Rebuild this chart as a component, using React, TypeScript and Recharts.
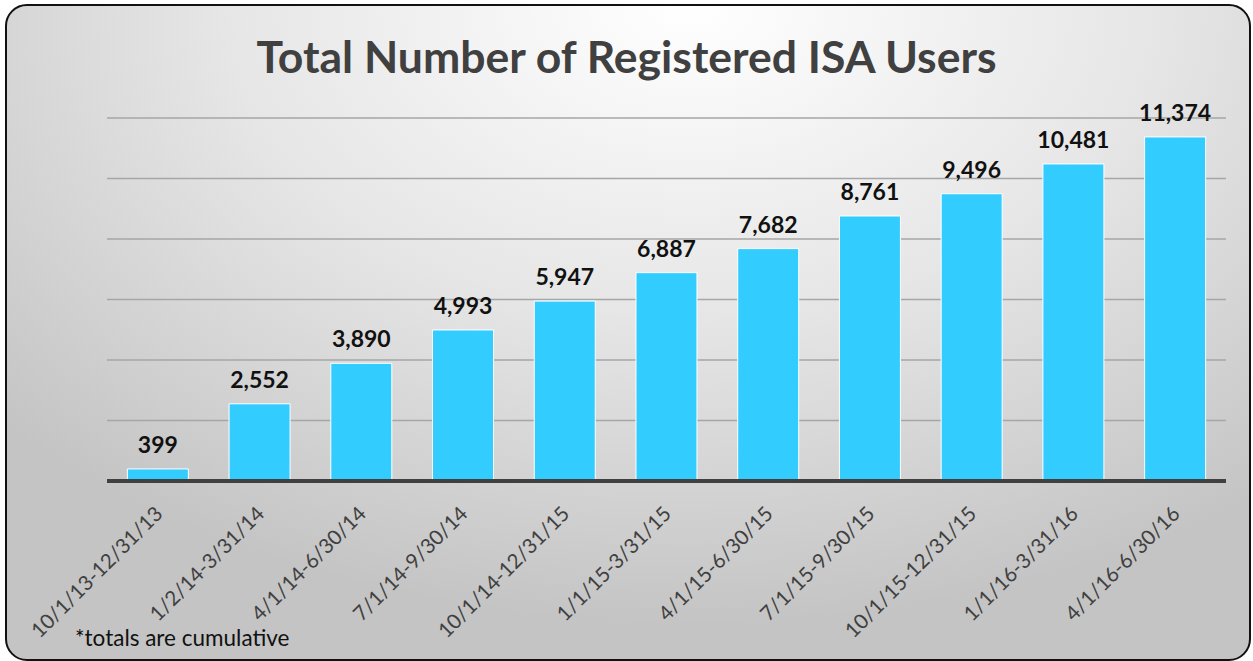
import { BarChart, Bar, XAxis, YAxis, CartesianGrid, LabelList, ReferenceLine } from 'recharts';

const periods = [
  '10/1/13-12/31/13',
  '1/2/14-3/31/14',
  '4/1/14-6/30/14',
  '7/1/14-9/30/14',
  '10/1/14-12/31/15',
  '1/1/15-3/31/15',
  '4/1/15-6/30/15',
  '7/1/15-9/30/15',
  '10/1/15-12/31/15',
  '1/1/16-3/31/16',
  '4/1/16-6/30/16',
];
const users = [399, 2552, 3890, 4993, 5947, 6887, 7682, 8761, 9496, 10481, 11374];
const yTicks = [0, 2000, 4000, 6000, 8000, 10000, 12000];

const data = periods.map((period, i) => ({ period, users: users[i] }));

const FONT = 'Lato, "Open Sans", sans-serif';

// rotated category labels, anchored at their end just under the axis
function SlantTick(props: any) {
  const { x, y, payload } = props;
  const ax = x + 6;
  const ay = y + 26;
  return (
    <text
      x={ax}
      y={ay}
      transform={`rotate(-45, ${ax}, ${ay})`}
      textAnchor="end"
      fontSize={20.5}
      fill="#404040"
      fontFamily={FONT}
    >
      {payload.value}
    </text>
  );
}

export default function App() {
  return (
    <div style={{ position: 'absolute', left: 0, top: 0, width: 1253, height: 661 }}>
      <div
        style={{
          position: 'absolute',
          left: 5,
          top: 4,
          width: 1242,
          height: 653,
          border: '2px solid #111',
          borderRadius: 22,
          background: 'radial-gradient(ellipse 75% 95% at 55% 0%, #ffffff 0%, #e6e6e6 50%, #c4c4c4 100%)',
        }}
      />
      <div
        style={{
          position: 'absolute',
          left: 0,
          top: 28,
          width: 1253,
          textAlign: 'center',
          fontFamily: FONT,
          fontWeight: 700,
          fontSize: 44.5,
          lineHeight: '56px',
          color: '#404040',
        }}
      >
        Total Number of Registered ISA Users
      </div>
      <div
        style={{
          position: 'absolute',
          left: 75,
          top: 624,
          fontFamily: FONT,
          fontSize: 22.5,
          color: '#111',
        }}
      >
        *totals are cumulative
      </div>
      <div style={{ position: 'absolute', left: 0, top: 0 }}>
        <BarChart
          width={1253}
          height={661}
          data={data}
          margin={{ top: 118, right: 27, bottom: 0, left: 107 }}
          barCategoryGap="20%"
        >
          <CartesianGrid vertical={false} stroke="#a6a6a6" strokeWidth={1.5} />
          <YAxis hide domain={[0, 12000]} ticks={yTicks} />
          <XAxis
            dataKey="period"
            height={180}
            interval={0}
            axisLine={false}
            tickLine={false}
            tick={<SlantTick />}
          />
          <Bar dataKey="users" fill="#33CCFF" stroke="#ffffff" strokeWidth={1} isAnimationActive={false}>
            <LabelList
              dataKey="users"
              position="top"
              offset={16}
              formatter={(v: any) => Number(v).toLocaleString('en-US')}
              style={{ fontFamily: FONT, fontWeight: 700, fontSize: 23, fill: '#111' }}
            />
          </Bar>
          <ReferenceLine y={0} stroke="#404040" strokeWidth={4} />
        </BarChart>
      </div>
    </div>
  );
}
